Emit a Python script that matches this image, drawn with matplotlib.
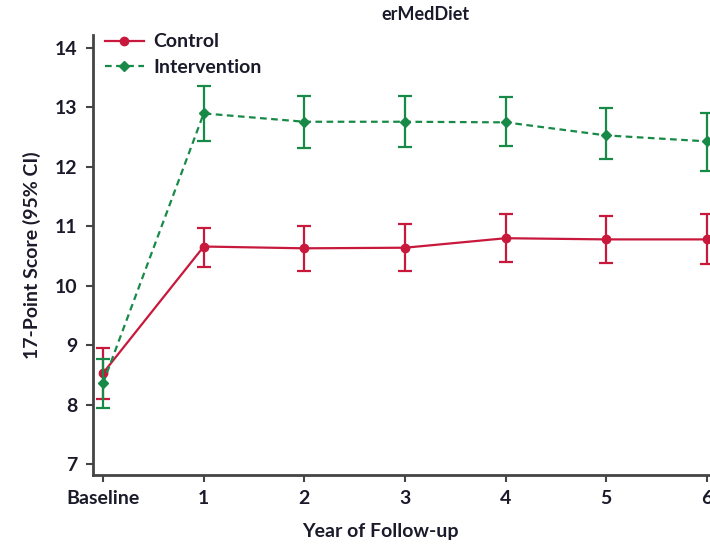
import matplotlib.pyplot as plt
from matplotlib.lines import Line2D
import numpy as np

# data
x_labels = ["Baseline", "1", "2", "3", "4", "5", "6"]
control_mean = [8.53, 10.66, 10.63, 10.64, 10.80, 10.78, 10.78]
control_lo = [8.09, 10.31, 10.24, 10.24, 10.40, 10.39, 10.37]
control_hi = [8.95, 10.98, 11.01, 11.04, 11.20, 11.17, 11.20]
interv_mean = [8.36, 12.90, 12.76, 12.76, 12.75, 12.53, 12.43]
interv_lo = [7.95, 12.44, 12.32, 12.33, 12.35, 12.13, 11.93]
interv_hi = [8.77, 13.36, 13.19, 13.19, 13.17, 12.99, 12.91]

red = "#c8193c"
green = "#188a48"
plt.rcParams['font.family'] = ['Lato', 'DejaVu Sans']
plt.rcParams['font.weight'] = 'bold'

fig = plt.figure(figsize=(7.1, 5.48), dpi=100)
ax = fig.add_axes([93 / 710, 73 / 548, 1 - 93 / 710, (475 - 35) / 548])

x = np.arange(len(x_labels))
cm = np.array(control_mean)
im = np.array(interv_mean)
ax.errorbar(x, cm, yerr=[cm - np.array(control_lo), np.array(control_hi) - cm],
            color=red, marker="o", ms=6, lw=1.6, elinewidth=1.6, capsize=5,
            capthick=1.6, zorder=3)
ax.errorbar(x, im, yerr=[im - np.array(interv_lo), np.array(interv_hi) - im],
            color=green, marker="D", ms=5.5, lw=1.6, ls=(0, (3, 2)), elinewidth=1.6,
            capsize=5, capthick=1.6, zorder=4)

ax.set_xlim(-0.1, 6.03)
ax.set_ylim(6.815, 14.22)
ax.set_xticks(x)
ax.set_xticklabels(x_labels)
ax.set_yticks(range(7, 15))
for s in ["top", "right"]:
    ax.spines[s].set_visible(False)
for s in ["left", "bottom"]:
    ax.spines[s].set_color("#444444")
    ax.spines[s].set_linewidth(2)
ax.tick_params(axis="both", direction="out", length=5, width=1.5, color="#444444",
               labelsize=14, labelcolor="#1a1a2a", pad=6)
for lbl in ax.get_xticklabels() + ax.get_yticklabels():
    lbl.set_fontweight("bold")

ax.set_ylabel("17-Point Score (95% CI)", fontsize=14, fontweight="bold", color="#1a1a2a", labelpad=10)
fig.text(380 / 710, 1 - 532 / 548, "Year of Follow-up", ha="center", va="center",
         fontsize=14, fontweight="bold", color="#1a1a2a")
fig.text(425 / 710, 1 - 15 / 548, "erMedDiet", ha="center", va="center",
         fontsize=13, fontweight="bold", color="#1a1a2a")

handles = [Line2D([], [], color=red, marker="o", ms=6, lw=1.6),
           Line2D([], [], color=green, marker="D", ms=5.5, lw=1.6, ls=(0, (3, 2)))]
leg = ax.legend(handles, ["Control", "Intervention"], loc="upper left",
                bbox_to_anchor=(0.0, 1.03), frameon=False, fontsize=14,
                handlelength=2.0, labelspacing=0.45, borderaxespad=0.2, handletextpad=0.5)
for t in leg.get_texts():
    t.set_color("#1a1a2a")
    t.set_fontweight("bold")

fig.savefig("out.png", dpi=100)
